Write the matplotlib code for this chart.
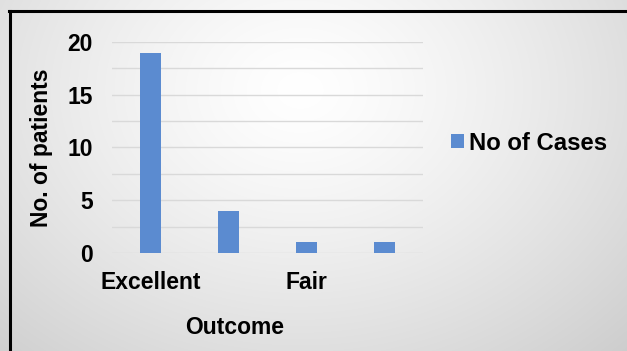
import numpy as np
import matplotlib
matplotlib.use("Agg")
import matplotlib.pyplot as plt
from matplotlib.lines import Line2D
from matplotlib.patches import Patch

categories = ["Excellent", "Good", "Fair", "Poor"]
tick_labels = ["Excellent", "", "Fair", ""]
cases = [19, 4, 1, 1]
series_name = "No of Cases"
y_ticks = [0, 5, 10, 15, 20]

plt.rcParams['font.family'] = ['Liberation Sans', 'DejaVu Sans']
W, H = 627, 351
FS = 16.5
fig = plt.figure(figsize=(W / 100, H / 100), dpi=100)

# background radial gradient
bg = fig.add_axes([0, 0, 1, 1], zorder=-10)
yy, xx = np.mgrid[0:H, 0:W]
r = np.sqrt(((xx - 300) / 420.0) ** 2 + ((yy - 90) / 330.0) ** 2)
v = np.clip(1.0 - 0.17 * r ** 1.3, 0, 1)
img = np.dstack([v, v, v])
bg.imshow(img, aspect='auto', extent=[0, 1, 0, 1], origin='upper')
bg.set_xlim(0, 1)
bg.set_ylim(0, 1)
bg.axis('off')

# border lines (left and top)
fig.add_artist(Line2D([9.5 / W, 9.5 / W], [0, 1 - 10.5 / H], transform=fig.transFigure, color='black', lw=2.2))
fig.add_artist(Line2D([8.5 / W, 626 / W], [1 - 11 / H, 1 - 11 / H], transform=fig.transFigure, color='black', lw=2.2))

ax = fig.add_axes([112 / W, 1 - 253 / H, 311 / W, 211 / H])
ax.patch.set_alpha(0)
x = np.arange(len(categories))
bars = ax.bar(x, cases, width=0.27, color='#5b8bd0', zorder=3)
ax.set_xlim(-0.5, len(categories) - 0.5)
ax.set_ylim(0, 20)
ax.set_yticks(y_ticks)
ax.set_yticklabels([str(t) for t in y_ticks], fontsize=FS, fontweight='bold')
ax.set_xticks(x)
ax.set_xticklabels(tick_labels, fontsize=FS, fontweight='bold')
ax.tick_params(axis='both', length=0)
ax.tick_params(axis='y', pad=14)
ax.tick_params(axis='x', pad=13)
for s in ax.spines.values():
    s.set_visible(False)
for g in np.arange(0, 20.01, 2.5):
    ax.axhline(g, color='#d9d9d9', lw=1.0, zorder=1)

fig.text(42 / W, 1 - 148 / H, "No. of patients", rotation=90, ha='center', va='center',
         fontsize=FS, fontweight='bold')
fig.text(235 / W, 1 - 327 / H, "Outcome", ha='center', va='center',
         fontsize=FS, fontweight='bold')

handle = Patch(facecolor='#5b8bd0', edgecolor='none')
fig.legend([handle], [series_name], loc='center left', bbox_to_anchor=(451 / W, 1 - 143 / H),
           frameon=False, prop={'size': 17.2, 'weight': 'bold'},
           handlelength=0.55, handleheight=0.55, handletextpad=0.22, borderaxespad=0, borderpad=0)

fig.savefig("out.png", dpi=100)
